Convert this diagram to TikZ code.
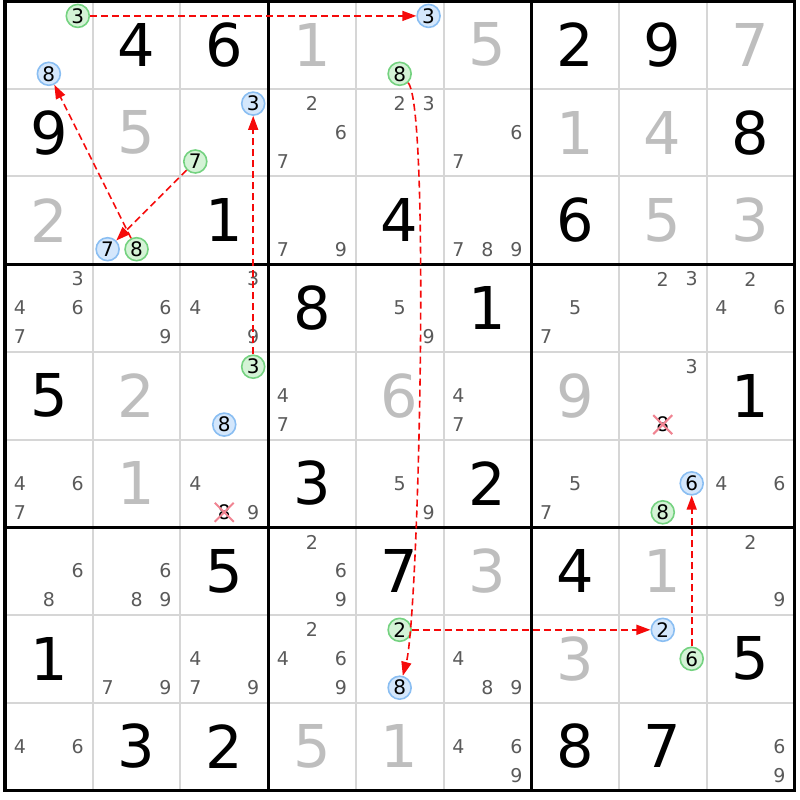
\documentclass[tikz,border=0pt]{standalone}
\usepackage{fontspec}
\setmainfont{DejaVu Sans}
\usepackage{tikz}
\usetikzlibrary{arrows.meta, shapes.misc}
\definecolor{gridc}{RGB}{214,214,214}
\definecolor{solvedc}{RGB}{190,190,190}
\definecolor{candc}{RGB}{90,90,90}
\definecolor{ondraw}{RGB}{116,210,128}
\definecolor{onfill}{RGB}{212,243,214}
\definecolor{offdraw}{RGB}{138,190,242}
\definecolor{offfill}{RGB}{212,231,252}
\definecolor{xpink}{RGB}{240,132,146}
\definecolor{linkred}{RGB}{245,10,10}

\begin{document}
\begin{tikzpicture}[x=87.7pt, y=-87.7pt,
  thinline/.style={draw=gridc, line width=2pt},
  thickline/.style={draw=black, line width=3.2pt},
  given/.style={font=\fontsize{59}{61}\selectfont, inner sep=0pt},
  solved/.style={given, text=solvedc},
  cand/.style={font=\fontsize{19}{20}\selectfont, text=candc, inner sep=0pt},
  oncand/.style={circle, draw=ondraw, fill=onfill, line width=1.6pt, minimum size=23pt, inner sep=0pt, font=\fontsize{20}{21}\selectfont},
  offcand/.style={oncand, draw=offdraw, fill=offfill},
  xcand/.style={cross out, draw=xpink, line width=2pt, minimum size=17pt, inner sep=0pt, font=\fontsize{20}{21}\selectfont},
  linkarrow/.style={draw=linkred, line width=1.6pt, dash pattern=on 7pt off 4pt, -{Triangle[length=14pt, width=10pt]}}]
\useasboundingbox (-0.057,-0.0114) rectangle (9.065,9.1106);
%
\draw[thinline] (1,0) -- (1,9);
\draw[thinline] (2,0) -- (2,9);
\draw[thinline] (4,0) -- (4,9);
\draw[thinline] (5,0) -- (5,9);
\draw[thinline] (7,0) -- (7,9);
\draw[thinline] (8,0) -- (8,9);
\draw[thinline] (0,1) -- (9,1);
\draw[thinline] (0,2) -- (9,2);
\draw[thinline] (0,4) -- (9,4);
\draw[thinline] (0,5) -- (9,5);
\draw[thinline] (0,7) -- (9,7);
\draw[thinline] (0,8) -- (9,8);
%
\draw[thickline] (0,0) rectangle (9,9);
\draw[thickline] (3,0) -- (3,9);
\draw[thickline] (6,0) -- (6,9);
\draw[thickline] (0,3) -- (9,3);
\draw[thickline] (0,6) -- (9,6);
%
% row 1
\node[oncand](r1c1d3) at (0.83,0.17) {3};
\node[offcand](r1c1d8) at (0.5,0.83) {8};
\node[given](r1c2) at (1.5,0.5) {4};
\node[given](r1c3) at (2.5,0.5) {6};
\node[solved](r1c4) at (3.5,0.5) {1};
\node[offcand](r1c5d3) at (4.83,0.17) {3};
\node[oncand](r1c5d8) at (4.5,0.83) {8};
\node[solved](r1c6) at (5.5,0.5) {5};
\node[given](r1c7) at (6.5,0.5) {2};
\node[given](r1c8) at (7.5,0.5) {9};
\node[solved](r1c9) at (8.5,0.5) {7};
%
% row 2
\node[given](r2c1) at (0.5,1.5) {9};
\node[solved](r2c2) at (1.5,1.5) {5};
\node[offcand](r2c3d3) at (2.83,1.17) {3};
\node[oncand](r2c3d7) at (2.17,1.83) {7};
\node[cand](r2c4d2) at (3.5,1.17) {2};
\node[cand](r2c4d6) at (3.83,1.5) {6};
\node[cand](r2c4d7) at (3.17,1.83) {7};
\node[cand](r2c5d2) at (4.5,1.17) {2};
\node[cand](r2c5d3) at (4.83,1.17) {3};
\node[cand](r2c6d6) at (5.83,1.5) {6};
\node[cand](r2c6d7) at (5.17,1.83) {7};
\node[solved](r2c7) at (6.5,1.5) {1};
\node[solved](r2c8) at (7.5,1.5) {4};
\node[given](r2c9) at (8.5,1.5) {8};
%
% row 3
\node[solved](r3c1) at (0.5,2.5) {2};
\node[offcand](r3c2d7) at (1.17,2.83) {7};
\node[oncand](r3c2d8) at (1.5,2.83) {8};
\node[given](r3c3) at (2.5,2.5) {1};
\node[cand](r3c4d7) at (3.17,2.83) {7};
\node[cand](r3c4d9) at (3.83,2.83) {9};
\node[given](r3c5) at (4.5,2.5) {4};
\node[cand](r3c6d7) at (5.17,2.83) {7};
\node[cand](r3c6d8) at (5.5,2.83) {8};
\node[cand](r3c6d9) at (5.83,2.83) {9};
\node[given](r3c7) at (6.5,2.5) {6};
\node[solved](r3c8) at (7.5,2.5) {5};
\node[solved](r3c9) at (8.5,2.5) {3};
%
% row 4
\node[cand](r4c1d3) at (0.83,3.17) {3};
\node[cand](r4c1d4) at (0.17,3.5) {4};
\node[cand](r4c1d6) at (0.83,3.5) {6};
\node[cand](r4c1d7) at (0.17,3.83) {7};
\node[cand](r4c2d6) at (1.83,3.5) {6};
\node[cand](r4c2d9) at (1.83,3.83) {9};
\node[cand](r4c3d3) at (2.83,3.17) {3};
\node[cand](r4c3d4) at (2.17,3.5) {4};
\node[cand](r4c3d9) at (2.83,3.83) {9};
\node[given](r4c4) at (3.5,3.5) {8};
\node[cand](r4c5d5) at (4.5,3.5) {5};
\node[cand](r4c5d9) at (4.83,3.83) {9};
\node[given](r4c6) at (5.5,3.5) {1};
\node[cand](r4c7d5) at (6.5,3.5) {5};
\node[cand](r4c7d7) at (6.17,3.83) {7};
\node[cand](r4c8d2) at (7.5,3.17) {2};
\node[cand](r4c8d3) at (7.83,3.17) {3};
\node[cand](r4c9d2) at (8.5,3.17) {2};
\node[cand](r4c9d4) at (8.17,3.5) {4};
\node[cand](r4c9d6) at (8.83,3.5) {6};
%
% row 5
\node[given](r5c1) at (0.5,4.5) {5};
\node[solved](r5c2) at (1.5,4.5) {2};
\node[oncand](r5c3d3) at (2.83,4.17) {3};
\node[offcand](r5c3d8) at (2.5,4.83) {8};
\node[cand](r5c4d4) at (3.17,4.5) {4};
\node[cand](r5c4d7) at (3.17,4.83) {7};
\node[solved](r5c5) at (4.5,4.5) {6};
\node[cand](r5c6d4) at (5.17,4.5) {4};
\node[cand](r5c6d7) at (5.17,4.83) {7};
\node[solved](r5c7) at (6.5,4.5) {9};
\node[cand](r5c8d3) at (7.83,4.17) {3};
\node[xcand](r5c8d8) at (7.5,4.83) {8};
\node[given](r5c9) at (8.5,4.5) {1};
%
% row 6
\node[cand](r6c1d4) at (0.17,5.5) {4};
\node[cand](r6c1d6) at (0.83,5.5) {6};
\node[cand](r6c1d7) at (0.17,5.83) {7};
\node[solved](r6c2) at (1.5,5.5) {1};
\node[cand](r6c3d4) at (2.17,5.5) {4};
\node[xcand](r6c3d8) at (2.5,5.83) {8};
\node[cand](r6c3d9) at (2.83,5.83) {9};
\node[given](r6c4) at (3.5,5.5) {3};
\node[cand](r6c5d5) at (4.5,5.5) {5};
\node[cand](r6c5d9) at (4.83,5.83) {9};
\node[given](r6c6) at (5.5,5.5) {2};
\node[cand](r6c7d5) at (6.5,5.5) {5};
\node[cand](r6c7d7) at (6.17,5.83) {7};
\node[offcand](r6c8d6) at (7.83,5.5) {6};
\node[oncand](r6c8d8) at (7.5,5.83) {8};
\node[cand](r6c9d4) at (8.17,5.5) {4};
\node[cand](r6c9d6) at (8.83,5.5) {6};
%
% row 7
\node[cand](r7c1d6) at (0.83,6.5) {6};
\node[cand](r7c1d8) at (0.5,6.83) {8};
\node[cand](r7c2d6) at (1.83,6.5) {6};
\node[cand](r7c2d8) at (1.5,6.83) {8};
\node[cand](r7c2d9) at (1.83,6.83) {9};
\node[given](r7c3) at (2.5,6.5) {5};
\node[cand](r7c4d2) at (3.5,6.17) {2};
\node[cand](r7c4d6) at (3.83,6.5) {6};
\node[cand](r7c4d9) at (3.83,6.83) {9};
\node[given](r7c5) at (4.5,6.5) {7};
\node[solved](r7c6) at (5.5,6.5) {3};
\node[given](r7c7) at (6.5,6.5) {4};
\node[solved](r7c8) at (7.5,6.5) {1};
\node[cand](r7c9d2) at (8.5,6.17) {2};
\node[cand](r7c9d9) at (8.83,6.83) {9};
%
% row 8
\node[given](r8c1) at (0.5,7.5) {1};
\node[cand](r8c2d7) at (1.17,7.83) {7};
\node[cand](r8c2d9) at (1.83,7.83) {9};
\node[cand](r8c3d4) at (2.17,7.5) {4};
\node[cand](r8c3d7) at (2.17,7.83) {7};
\node[cand](r8c3d9) at (2.83,7.83) {9};
\node[cand](r8c4d2) at (3.5,7.17) {2};
\node[cand](r8c4d4) at (3.17,7.5) {4};
\node[cand](r8c4d6) at (3.83,7.5) {6};
\node[cand](r8c4d9) at (3.83,7.83) {9};
\node[oncand](r8c5d2) at (4.5,7.17) {2};
\node[offcand](r8c5d8) at (4.5,7.83) {8};
\node[cand](r8c6d4) at (5.17,7.5) {4};
\node[cand](r8c6d8) at (5.5,7.83) {8};
\node[cand](r8c6d9) at (5.83,7.83) {9};
\node[solved](r8c7) at (6.5,7.5) {3};
\node[offcand](r8c8d2) at (7.5,7.17) {2};
\node[oncand](r8c8d6) at (7.83,7.5) {6};
\node[given](r8c9) at (8.5,7.5) {5};
%
% row 9
\node[cand](r9c1d4) at (0.17,8.5) {4};
\node[cand](r9c1d6) at (0.83,8.5) {6};
\node[given](r9c2) at (1.5,8.5) {3};
\node[given](r9c3) at (2.5,8.5) {2};
\node[solved](r9c4) at (3.5,8.5) {5};
\node[solved](r9c5) at (4.5,8.5) {1};
\node[cand](r9c6d4) at (5.17,8.5) {4};
\node[cand](r9c6d6) at (5.83,8.5) {6};
\node[cand](r9c6d9) at (5.83,8.83) {9};
\node[given](r9c7) at (6.5,8.5) {8};
\node[given](r9c8) at (7.5,8.5) {7};
\node[cand](r9c9d6) at (8.83,8.5) {6};
\node[cand](r9c9d9) at (8.83,8.83) {9};
%
% links
\draw[linkarrow](r1c1d3) -- (r1c5d3) {};
\draw[linkarrow](r1c5d8) .. controls (4.85,1.2) and (4.72,7.0) .. (r8c5d8) {};
\draw[linkarrow](r8c5d2) -- (r8c8d2) {};
\draw[linkarrow](r8c8d6) -- (r6c8d6) {};
\draw[linkarrow](r5c3d3) -- (r2c3d3) {};
\draw[linkarrow](r2c3d7) -- (r3c2d7) {};
\draw[linkarrow](r3c2d8) -- (r1c1d8) {};
\end{tikzpicture}
\end{document}
